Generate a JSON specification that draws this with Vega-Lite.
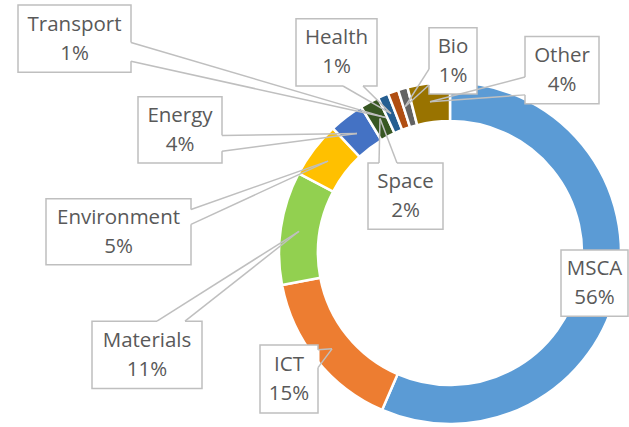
{
  "$schema": "https://vega.github.io/schema/vega-lite/v6.json",
  "autosize": {"type": "fit", "contains": "padding"},
  "width": 629,
  "height": 427,
  "padding": 0,
  "background": "white",
  "config": {"view": {"stroke": null}},
  "datasets": {
    "slices": [
      {"name": "MSCA", "value": 56.5, "ord": 1},
      {"name": "ICT", "value": 15.5, "ord": 2},
      {"name": "Materials", "value": 10.7, "ord": 3},
      {"name": "Environment", "value": 5.3, "ord": 4},
      {"name": "Energy", "value": 3.3, "ord": 5},
      {"name": "Space", "value": 1.8, "ord": 6},
      {"name": "Transport", "value": 1.0, "ord": 7},
      {"name": "Health", "value": 1.0, "ord": 8},
      {"name": "Bio", "value": 0.9, "ord": 9},
      {"name": "Other", "value": 4.0, "ord": 10}
    ],
    "labels": [
      {"name": "Transport", "pct": "1%", "x1": 18, "y1": 5, "x2": 131, "y2": 73, "ax": 131, "ay": 43, "bx": 131, "by": 62, "tx": 386, "ty": 119},
      {"name": "Health", "pct": "1%", "x1": 296, "y1": 19, "x2": 377, "y2": 87, "ax": 343, "ay": 87, "bx": 363, "by": 87, "tx": 391, "ty": 115},
      {"name": "Bio", "pct": "1%", "x1": 429, "y1": 28, "x2": 477, "y2": 95, "ax": 429, "ay": 70, "bx": 429, "by": 86, "tx": 405, "ty": 108},
      {"name": "Other", "pct": "4%", "x1": 525, "y1": 37, "x2": 599, "y2": 105, "ax": 525, "ay": 78, "bx": 525, "by": 96, "tx": 430, "ty": 103},
      {"name": "Energy", "pct": "4%", "x1": 138, "y1": 98, "x2": 222, "y2": 165, "ax": 222, "ay": 137, "bx": 222, "by": 153, "tx": 357, "ty": 135},
      {"name": "Environment", "pct": "5%", "x1": 46, "y1": 201, "x2": 191, "y2": 268, "ax": 191, "ay": 212, "bx": 191, "by": 227, "tx": 328, "ty": 163},
      {"name": "Materials", "pct": "11%", "x1": 92, "y1": 325, "x2": 202, "y2": 393, "ax": 157, "ay": 325, "bx": 185, "by": 325, "tx": 299, "ty": 234},
      {"name": "Space", "pct": "2%", "x1": 368, "y1": 165, "x2": 443, "y2": 232, "ax": 379, "ay": 165, "bx": 397, "by": 165, "tx": 380, "ty": 120},
      {"name": "ICT", "pct": "15%", "x1": 260, "y1": 349, "x2": 318, "y2": 418, "ax": 318, "ay": 354, "bx": 318, "by": 372, "tx": 332, "ty": 353},
      {"name": "MSCA", "pct": "56%", "x1": 561, "y1": 253, "x2": 628, "y2": 320, "ax": null, "ay": null, "bx": null, "by": null, "tx": null, "ty": null}
    ]
  },
  "layer": [
    {
      "data": {"name": "slices"},
      "mark": {"type": "arc", "innerRadius": 132, "outerRadius": 171, "stroke": "white", "strokeWidth": 2.5},
      "encoding": {
        "x": {"datum": 450, "type": "quantitative", "scale": {"domain": [0, 629], "nice": false, "zero": false}, "axis": null},
        "y": {"datum": 256, "type": "quantitative", "scale": {"domain": [0, 427], "nice": false, "zero": false, "reverse": true}, "axis": null},
        "theta": {"field": "value", "type": "quantitative", "stack": true},
        "order": {"field": "ord", "type": "quantitative"},
        "color": {
          "field": "name", "type": "nominal", "legend": null,
          "scale": {
            "domain": ["MSCA", "ICT", "Materials", "Environment", "Energy", "Space", "Transport", "Health", "Bio", "Other"],
            "range": ["#5B9BD5", "#ED7D31", "#92D050", "#FFC000", "#4472C4", "#385723", "#255E91", "#B04E12", "#636363", "#997300"]
          }
        }
      }
    },
    {
      "data": {"name": "labels"},
      "mark": {"type": "rect", "fill": "white", "stroke": "#BFBFBF", "strokeWidth": 1.5},
      "encoding": {
        "x": {"field": "x1", "type": "quantitative"},
        "x2": {"field": "x2"},
        "y": {"field": "y1", "type": "quantitative"},
        "y2": {"field": "y2"}
      }
    },
    {
      "data": {"name": "labels"},
      "transform": [{"filter": "isValid(datum.tx)"}],
      "mark": {"type": "rule", "stroke": "white", "strokeWidth": 3},
      "encoding": {
        "x": {"field": "ax", "type": "quantitative"},
        "y": {"field": "ay", "type": "quantitative"},
        "x2": {"field": "bx"},
        "y2": {"field": "by"}
      }
    },
    {
      "data": {"name": "labels"},
      "transform": [{"filter": "isValid(datum.tx)"}],
      "mark": {"type": "rule", "stroke": "#BFBFBF", "strokeWidth": 1.5},
      "encoding": {
        "x": {"field": "ax", "type": "quantitative"},
        "y": {"field": "ay", "type": "quantitative"},
        "x2": {"field": "tx"},
        "y2": {"field": "ty"}
      }
    },
    {
      "data": {"name": "labels"},
      "transform": [{"filter": "isValid(datum.tx)"}],
      "mark": {"type": "rule", "stroke": "#BFBFBF", "strokeWidth": 1.5},
      "encoding": {
        "x": {"field": "bx", "type": "quantitative"},
        "y": {"field": "by", "type": "quantitative"},
        "x2": {"field": "tx"},
        "y2": {"field": "ty"}
      }
    },
    {
      "data": {"name": "labels"},
      "transform": [
        {"calculate": "(datum.x1 + datum.x2) / 2", "as": "cx"},
        {"calculate": "(datum.y1 + datum.y2) / 2", "as": "cy"},
        {"calculate": "[datum.name, datum.pct]", "as": "txt"}
      ],
      "mark": {"type": "text", "font": "Open Sans", "fontSize": 20.5, "color": "#595959", "align": "center", "baseline": "middle", "lineHeight": 29, "dy": -14},
      "encoding": {
        "x": {"field": "cx", "type": "quantitative"},
        "y": {"field": "cy", "type": "quantitative"},
        "text": {"field": "txt"}
      }
    }
  ]
}
